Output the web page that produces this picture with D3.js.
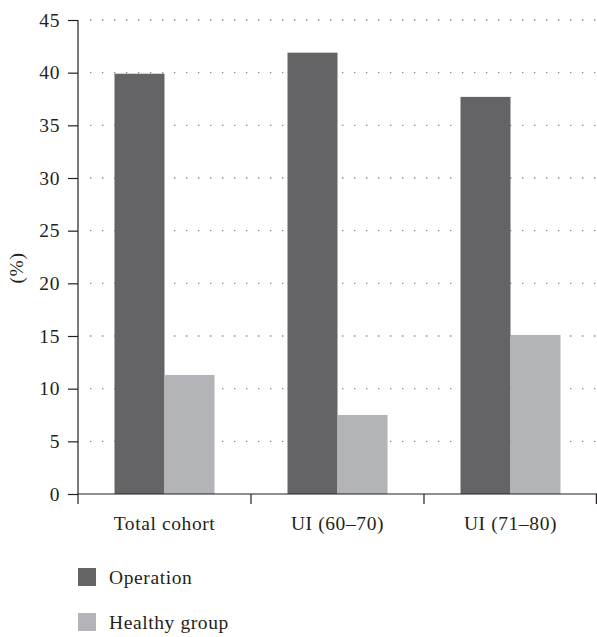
<!DOCTYPE html>
<html lang="en">
<head>
  <meta charset="UTF-8">
  <script src="https://d3js.org/d3.v7.min.js"></script>
  <title>Operation vs Healthy group</title>
  <style>
    body { margin: 0; background: #fff; }
    svg text { font-family: 'Liberation Serif', 'DejaVu Serif', serif; fill: #231f20; letter-spacing: 0.6px; }
  </style>
</head>
<body>
  <svg width="597" height="637"></svg>
  <script>
    // Data
    const categories = ["Total cohort", "UI (60\u201370)", "UI (71\u201380)"];
    const seriesNames = ["Operation", "Healthy group"];
    const operation = [39.9, 41.9, 37.7];
    const healthy = [11.3, 7.5, 15.1];
    const yTicks = [0, 5, 10, 15, 20, 25, 30, 35, 40, 45];
    const colors = ["#646466", "#b3b4b8"];

    const svg = d3.select("svg");
    const plotLeft = 78, plotRight = 597, plotTop = 20, plotBottom = 494;
    const fontSize = "19.5px";

    const x = d3.scaleBand().domain(categories).range([plotLeft, plotRight]);
    const inner = d3.scaleBand().domain(seriesNames).range([0, 100]);
    const y = d3.scaleLinear().domain([0, 45]).range([plotBottom, plotTop]);

    // dotted grid lines
    svg.append("g")
      .selectAll("line")
      .data(yTicks.filter(d => d > 0))
      .enter()
      .append("line")
      .attr("x1", plotLeft + 12)
      .attr("x2", plotRight - 1)
      .attr("y1", d => y(d))
      .attr("y2", d => y(d))
      .attr("stroke", "#8a8a8c")
      .attr("stroke-width", 1.4)
      .attr("stroke-dasharray", "1.4,10.6");

    // bars
    const groups = categories.map((c, i) => ({ c, vals: [operation[i], healthy[i]] }));
    svg.append("g")
      .selectAll("g")
      .data(groups)
      .enter()
      .append("g")
      .attr("transform", d => `translate(${x(d.c) + x.bandwidth() / 2 - 50},0)`)
      .selectAll("rect")
      .data(d => d.vals.map((v, j) => ({ v, s: seriesNames[j], j })))
      .enter()
      .append("rect")
      .attr("x", d => inner(d.s))
      .attr("width", inner.bandwidth())
      .attr("y", d => y(d.v))
      .attr("height", d => plotBottom - y(d.v))
      .attr("fill", d => colors[d.j]);

    // y axis
    const yAxis = svg.append("g")
      .attr("transform", `translate(${plotLeft},0)`)
      .call(d3.axisLeft(y).tickValues(yTicks).tickSize(10).tickPadding(8));
    yAxis.select(".domain").remove();
    yAxis.selectAll("line").attr("stroke", "#231f20").attr("stroke-width", 1.2);
    yAxis.selectAll("text").style("font-size", fontSize).style("font-family", "'Liberation Serif', serif").attr("fill", "#231f20");
    svg.append("line")
      .attr("x1", plotLeft).attr("x2", plotLeft)
      .attr("y1", plotTop).attr("y2", plotBottom + 10)
      .attr("stroke", "#231f20").attr("stroke-width", 1.2);

    // x axis
    svg.append("line")
      .attr("x1", plotLeft).attr("x2", plotRight)
      .attr("y1", plotBottom).attr("y2", plotBottom)
      .attr("stroke", "#231f20").attr("stroke-width", 1.2);
    svg.append("g")
      .selectAll("line")
      .data(categories)
      .enter()
      .append("line")
      .attr("x1", d => Math.min(x(d) + x.bandwidth(), plotRight - 0.6))
      .attr("x2", d => Math.min(x(d) + x.bandwidth(), plotRight - 0.6))
      .attr("y1", plotBottom)
      .attr("y2", plotBottom + 10)
      .attr("stroke", "#231f20").attr("stroke-width", 1.2);
    svg.append("g")
      .selectAll("text")
      .data(categories)
      .enter()
      .append("text")
      .attr("x", d => x(d) + x.bandwidth() / 2)
      .attr("y", 530)
      .attr("text-anchor", "middle")
      .style("font-size", fontSize)
      .text(d => d);

    // y label
    svg.append("text")
      .attr("transform", "translate(23,268) rotate(-90)")
      .attr("text-anchor", "middle")
      .style("font-size", fontSize)
      .text("(%)");

    // legend
    const legend = svg.append("g")
      .selectAll("g")
      .data(seriesNames)
      .enter()
      .append("g")
      .attr("transform", (d, i) => `translate(78,${568 + i * 45})`);
    legend.append("rect")
      .attr("width", 18).attr("height", 18)
      .attr("fill", (d, i) => colors[i]);
    legend.append("text")
      .attr("x", 31).attr("y", 16)
      .style("font-size", fontSize)
      .text(d => d);
  </script>
</body>
</html>
